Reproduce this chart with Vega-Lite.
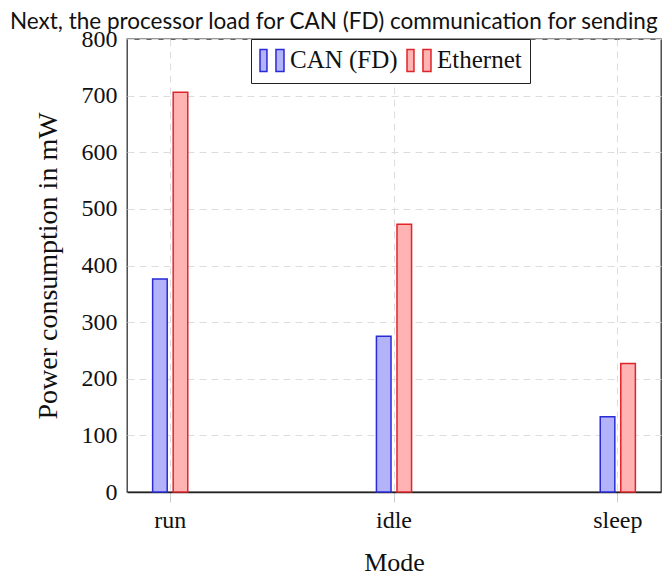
{
  "$schema": "https://vega.github.io/schema/vega-lite/v6.json",
  "autosize": "none",
  "padding": {"left": 127, "top": 39, "right": 8, "bottom": 85},
  "width": 534,
  "height": 453,
  "background": "white",
  "title": {
    "text": "Next, the processor load for CAN (FD) communication for sending",
    "font": "Lato",
    "fontSize": 22.5,
    "fontWeight": "normal",
    "color": "#111111",
    "anchor": "start",
    "frame": "group",
    "dx": -117,
    "offset": -24,
    "baseline": "alphabetic"
  },
  "data": {
    "values": [
      {"mode": "run", "network": "CAN (FD)", "power": 376},
      {"mode": "run", "network": "Ethernet", "power": 706},
      {"mode": "idle", "network": "CAN (FD)", "power": 275},
      {"mode": "idle", "network": "Ethernet", "power": 473},
      {"mode": "sleep", "network": "CAN (FD)", "power": 133},
      {"mode": "sleep", "network": "Ethernet", "power": 227}
    ]
  },
  "mark": {"type": "bar", "strokeWidth": 1.5},
  "encoding": {
    "x": {
      "field": "mode",
      "type": "nominal",
      "sort": ["run", "idle", "sleep"],
      "scale": {"paddingInner": 0.843, "paddingOuter": 0.1145},
      "axis": {
        "title": "Mode",
        "titleFont": "Liberation Serif",
        "titleFontSize": 26,
        "titleFontWeight": "normal",
        "titleColor": "#111111",
        "titlePadding": 17,
        "labelFont": "Liberation Serif",
        "labelFontSize": 24,
        "labelColor": "#111111",
        "labelAngle": 0,
        "labelPadding": 6,
        "bandPosition": 0.5,
        "ticks": true,
        "tickSize": 10,
        "tickColor": "#cccccc",
        "domain": true,
        "domainColor": "#222222",
        "domainWidth": 1.3,
        "grid": true,
        "gridColor": "#dddddd",
        "gridDash": [7, 5]
      }
    },
    "xOffset": {
      "field": "network",
      "type": "nominal",
      "sort": ["CAN (FD)", "Ethernet"],
      "scale": {"paddingInner": 0.29, "paddingOuter": 0}
    },
    "y": {
      "field": "power",
      "type": "quantitative",
      "scale": {"domain": [0, 800], "nice": false},
      "axis": {
        "title": "Power consumption in mW",
        "titleFont": "Liberation Serif",
        "titleFontSize": 28,
        "titleFontWeight": "normal",
        "titleColor": "#111111",
        "titlePadding": 19,
        "labelFont": "Liberation Serif",
        "labelFontSize": 24,
        "labelColor": "#111111",
        "labelPadding": 10,
        "values": [0, 100, 200, 300, 400, 500, 600, 700, 800],
        "ticks": false,
        "tickSize": 0,
        "domain": false,
        "grid": true,
        "gridColor": "#dddddd",
        "gridDash": [7, 5]
      }
    },
    "color": {
      "field": "network",
      "type": "nominal",
      "scale": {"domain": ["CAN (FD)", "Ethernet"], "range": ["#b3b3fa", "#ffb3b3"]},
      "legend": {
        "title": null,
        "orient": "none",
        "legendX": 124,
        "legendY": 0,
        "direction": "horizontal",
        "strokeColor": "#222222",
        "fillColor": "white",
        "padding": 8,
        "symbolSize": 576,
        "symbolStrokeWidth": 1.5,
        "symbolType": "M-1,-0.92H-0.42V0.92H-1Z M0.33,-0.92H1V0.92H0.33Z",
        "labelFont": "Liberation Serif",
        "labelFontSize": 25,
        "labelColor": "#111111",
        "labelOffset": 5,
        "columnPadding": 6
      }
    },
    "stroke": {
      "field": "network",
      "type": "nominal",
      "scale": {"domain": ["CAN (FD)", "Ethernet"], "range": ["#2a2ad6", "#e0242a"]},
      "legend": {
        "title": null,
        "orient": "none",
        "legendX": 124,
        "legendY": 0,
        "direction": "horizontal",
        "strokeColor": "#222222",
        "fillColor": "white",
        "padding": 8,
        "symbolSize": 576,
        "symbolStrokeWidth": 1.5,
        "symbolType": "M-1,-0.92H-0.42V0.92H-1Z M0.33,-0.92H1V0.92H0.33Z",
        "labelFont": "Liberation Serif",
        "labelFontSize": 25,
        "labelColor": "#111111",
        "labelOffset": 5,
        "columnPadding": 6
      }
    }
  },
  "config": {
    "view": {"stroke": "#333333", "strokeWidth": 1.3}
  }
}
